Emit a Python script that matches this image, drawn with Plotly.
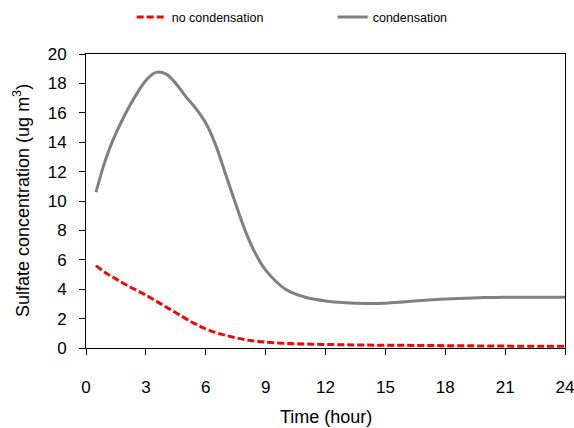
import plotly.graph_objects as go

hours = [0.5, 1, 1.5, 2, 2.5, 3, 3.5, 4, 4.5, 5, 5.5, 6, 6.5, 7, 7.5, 8, 8.5, 9,
         10, 11, 12, 13, 14, 15, 16, 17, 18, 19, 20, 21, 22, 23, 24]
condensation = [10.6, 12.9, 14.6, 16.0, 17.2, 18.2, 18.75, 18.65, 18.0, 17.1, 16.3, 15.3,
                13.8, 11.8, 9.8, 7.9, 6.4, 5.3, 4.0, 3.45, 3.2, 3.08, 3.03, 3.05,
                3.15, 3.25, 3.33, 3.39, 3.43, 3.45, 3.46, 3.46, 3.46]
no_condensation = [5.6, 5.1, 4.7, 4.3, 3.95, 3.6, 3.2, 2.8, 2.4, 2.0, 1.62, 1.3,
                   1.05, 0.86, 0.7, 0.56, 0.47, 0.4, 0.31, 0.27, 0.24, 0.22, 0.2, 0.19,
                   0.18, 0.17, 0.16, 0.15, 0.14, 0.13, 0.12, 0.12, 0.11]

x_ticks = [0, 3, 6, 9, 12, 15, 18, 21, 24]
y_ticks = [0, 2, 4, 6, 8, 10, 12, 14, 16, 18, 20]

x_title = "Time (hour)"
y_title = "Sulfate concentration (ug m<sup>3</sup>)"

fig = go.Figure()
fig.add_trace(go.Scatter(x=hours, y=no_condensation, mode="lines", name="no condensation",
                         line=dict(color="#ff0000", width=3, dash="7px,3px", shape="spline")))
fig.add_trace(go.Scatter(x=hours, y=condensation, mode="lines", name="condensation",
                         line=dict(color="#808080", width=3, shape="spline")))

font = "Liberation Sans, Arial, sans-serif"
fig.update_layout(
    width=574, height=428,
    margin=dict(l=86, r=9, t=54, b=80, autoexpand=False),
    paper_bgcolor="white", plot_bgcolor="white",
    font=dict(family=font, size=17, color="black"),
    showlegend=True,
    legend=dict(orientation="h", x=0.515, y=1.125, xref="paper", yref="paper",
                xanchor="center", yanchor="middle", font=dict(size=12.5),
                itemwidth=30, entrywidthmode="pixels", entrywidth=156,
                bgcolor="rgba(0,0,0,0)"),
    xaxis=dict(range=[0, 24], tickvals=x_ticks, ticks="outside", ticklen=6,
               tickcolor="black", showline=True, linecolor="black", linewidth=1,
               mirror=True, showgrid=False, zeroline=False, automargin=False,
               ticklabelstandoff=18, ticklabeloverflow="allow", tickfont=dict(size=17)),
    yaxis=dict(range=[0, 20], tickvals=y_ticks, ticks="outside", ticklen=6,
               tickcolor="black", showline=True, linecolor="black", linewidth=1,
               mirror=True, showgrid=False, zeroline=False, automargin=False,
               ticklabelstandoff=9, ticklabeloverflow="allow", tickfont=dict(size=17)),
    annotations=[
        dict(text=x_title, xref="paper", yref="paper", x=0.5, y=-69 / 294,
             xanchor="center", yanchor="middle", showarrow=False, font=dict(size=18)),
        dict(text=y_title, xref="paper", yref="paper", x=-65 / 479, y=0.5,
             xanchor="center", yanchor="middle", showarrow=False, textangle=-90,
             font=dict(size=18)),
    ],
)

fig.write_html("out.html", config={"displayModeBar": False},
               post_script="document.body.style.margin='0';document.body.style.overflow='hidden';")
